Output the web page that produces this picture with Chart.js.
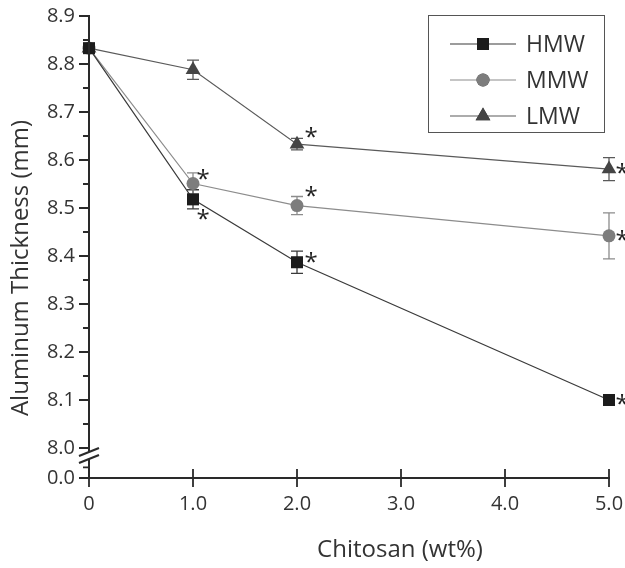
<!DOCTYPE html>
<html>
<head>
<meta charset="utf-8">
<script src="https://cdn.jsdelivr.net/npm/chart.js@4.4.1/dist/chart.umd.min.js"></script>
<style>
  html, body { margin: 0; padding: 0; background: #fff; }
  #wrap { width: 625px; height: 568px; }
</style>
</head>
<body>
<div id="wrap"><canvas id="chart"></canvas></div>
<script>
// Data
const xValues = [0, 1, 2, 5];
const xTicks = [0, 1, 2, 3, 4, 5];
const yTicks = [8.0, 8.1, 8.2, 8.3, 8.4, 8.5, 8.6, 8.7, 8.8, 8.9];
const yBreakBottom = 7.9375; // where "0.0" sits below the axis break

const seriesNames = ['HMW', 'MMW', 'LMW'];
const hmwValues = [8.833, 8.518, 8.387, 8.100];
const hmwErrors = [0, 0.020, 0.023, 0];
const hmwStars = [false, true, true, true];
const mmwValues = [8.833, 8.551, 8.505, 8.442];
const mmwErrors = [0, 0.022, 0.019, 0.048];
const mmwStars = [false, true, true, true];
const lmwValues = [8.833, 8.788, 8.633, 8.581];
const lmwErrors = [0, 0.020, 0.012, 0.024];
const lmwStars = [false, false, true, true];

const FONT = '"Open Sans", "Noto Sans", sans-serif';
const AXIS = '#2a2a2a';
const TEXT = '#333';

// marker colours / line colours per series
const styles = [
    { marker: '#1c1c1c', line: '#3a3a3a', shape: 'rect', radius: 8.5 },
    { marker: '#7d7d7d', line: '#8c8c8c', shape: 'circle', radius: 6.5 },
    { marker: '#454545', line: '#5a5a5a', shape: 'triangle', radius: 8.5 }
];
const errors = [hmwErrors, mmwErrors, lmwErrors];
const stars = [hmwStars, mmwStars, lmwStars];
// where the asterisk sits relative to the point, per x index
const starOffsets = [
    [null, [10, 16], [14, -4], [13, 0]],
    [null, [10, -8], [14, -13], [13, 0]],
    [null, null, [14, -11], [13, 0]]
];

function toPoints(vals) {
    return xValues.map((x, i) => ({ x: x, y: vals[i] }));
}

const datasets = [hmwValues, mmwValues, lmwValues].map((vals, i) => ({
    label: seriesNames[i],
    data: toPoints(vals),
    borderColor: styles[i].line,
    borderWidth: 1.2,
    backgroundColor: styles[i].marker,
    pointStyle: styles[i].shape,
    pointRadius: styles[i].radius,
    pointBackgroundColor: styles[i].marker,
    pointBorderColor: styles[i].marker,
    pointBorderWidth: 0,
    tension: 0,
    clip: false
}));

// Error bars under the markers
const errorBars = {
    id: 'errorBars',
    beforeDatasetsDraw(chart) {
        const { ctx, scales: { x, y } } = chart;
        ctx.save();
        errors.forEach((errs, d) => {
            ctx.strokeStyle = styles[d].line;
            ctx.lineWidth = 1.3;
            chart.data.datasets[d].data.forEach((p, i) => {
                if (!errs[i]) return;
                const px = x.getPixelForValue(p.x);
                const top = y.getPixelForValue(p.y + errs[i]);
                const bot = y.getPixelForValue(p.y - errs[i]);
                ctx.beginPath();
                ctx.moveTo(px, top); ctx.lineTo(px, bot);
                ctx.moveTo(px - 6, top); ctx.lineTo(px + 6, top);
                ctx.moveTo(px - 6, bot); ctx.lineTo(px + 6, bot);
                ctx.stroke();
            });
        });
        ctx.restore();
    }
};

// Axes, break marks, ticks, titles, legend and asterisks
const decorations = {
    id: 'decorations',
    afterDraw(chart) {
        const { ctx, scales: { x, y } } = chart;
        const x0 = x.getPixelForValue(0);
        const yBase = y.getPixelForValue(yBreakBottom);
        const yTop = y.getPixelForValue(8.9);
        const y8 = y.getPixelForValue(8.0);
        ctx.save();
        ctx.strokeStyle = AXIS;
        ctx.lineWidth = 2;

        // y axis with a gap for the break
        ctx.beginPath();
        ctx.moveTo(x0, yTop - 1); ctx.lineTo(x0, y8 + 4);
        ctx.moveTo(x0, y8 + 11); ctx.lineTo(x0, yBase);
        ctx.stroke();
        // break slashes
        ctx.lineWidth = 2.2;
        ctx.beginPath();
        ctx.moveTo(x0 - 10, y8 + 8); ctx.lineTo(x0 + 10, y8 - 0);
        ctx.moveTo(x0 - 10, y8 + 15); ctx.lineTo(x0 + 10, y8 + 7);
        ctx.stroke();

        // x axis
        ctx.lineWidth = 2;
        ctx.beginPath();
        ctx.moveTo(x0 - 1, yBase); ctx.lineTo(x.getPixelForValue(5) + 1, yBase);
        ctx.stroke();

        // y ticks: major outward, minor half way
        ctx.lineWidth = 1.8;
        ctx.beginPath();
        yTicks.forEach(v => {
            const py = y.getPixelForValue(v);
            ctx.moveTo(x0 - 10, py); ctx.lineTo(x0, py);
            if (v < 8.9) {
                const pm = y.getPixelForValue(v + 0.05);
                ctx.moveTo(x0 - 6, pm); ctx.lineTo(x0, pm);
            }
        });
        ctx.moveTo(x0 - 10, yBase); ctx.lineTo(x0, yBase);
        const pMinor = y.getPixelForValue(yBreakBottom + 0.022);
        ctx.moveTo(x0 - 6, pMinor); ctx.lineTo(x0, pMinor);
        // x ticks cross the axis
        xTicks.forEach(v => {
            if (v === 0) return;
            const px = x.getPixelForValue(v);
            ctx.moveTo(px, yBase - 9); ctx.lineTo(px, yBase + 9);
        });
        ctx.moveTo(x0, yBase); ctx.lineTo(x0, yBase + 9);
        ctx.stroke();

        // axis titles
        ctx.fillStyle = TEXT;
        ctx.font = '24px ' + FONT;
        ctx.textAlign = 'center';
        ctx.textBaseline = 'middle';
        ctx.fillText('Chitosan (wt%)', 400, 550);
        ctx.save();
        ctx.translate(21, 268);
        ctx.rotate(-Math.PI / 2);
        ctx.fillText('Aluminum Thickness (mm)', 0, 0);
        ctx.restore();

        // asterisks
        ctx.font = '24px ' + FONT;
        ctx.fillStyle = '#222';
        ctx.textAlign = 'center';
        stars.forEach((flags, d) => {
            chart.data.datasets[d].data.forEach((p, i) => {
                if (!flags[i]) return;
                const off = starOffsets[d][i];
                ctx.fillText('*', x.getPixelForValue(p.x) + off[0], y.getPixelForValue(p.y) + off[1] + 5);
            });
        });

        // legend box
        ctx.strokeStyle = '#555';
        ctx.lineWidth = 1;
        ctx.strokeRect(428.5, 15.5, 176, 117);
        ctx.font = '23px ' + FONT;
        ctx.textAlign = 'left';
        ctx.fillStyle = TEXT;
        const rows = [44, 80, 116];
        seriesNames.forEach((name, d) => {
            const ly = rows[d];
            ctx.strokeStyle = styles[d].line;
            ctx.lineWidth = 1.2;
            ctx.beginPath();
            ctx.moveTo(450, ly); ctx.lineTo(516, ly);
            ctx.stroke();
            Chart.helpers.drawPoint(ctx, {
                pointStyle: styles[d].shape,
                radius: styles[d].radius,
                borderWidth: 0
            }, 483, ly);
            ctx.fillStyle = styles[d].marker;
            ctx.fill();
            ctx.fillStyle = TEXT;
            ctx.fillText(name, 526, ly + 1);
        });
        ctx.restore();
    }
};

new Chart(document.getElementById('chart'), {
    type: 'line',
    data: { datasets: datasets },
    options: {
        responsive: true,
        maintainAspectRatio: false,
        animation: false,
        layout: { padding: { left: 0, right: 16, top: 16, bottom: 0 } },
        plugins: {
            legend: { display: false },
            tooltip: { enabled: false }
        },
        scales: {
            x: {
                type: 'linear',
                min: 0,
                max: 5,
                grid: { display: false, drawTicks: false },
                border: { display: false },
                afterBuildTicks: s => { s.ticks = xTicks.map(v => ({ value: v })); },
                afterFit: s => { s.height = 90; s.paddingLeft = 0; s.paddingRight = 0; },
                ticks: {
                    padding: 14,
                    color: TEXT,
                    font: { family: FONT, size: 20 },
                    callback: v => v === 0 ? '0' : Number(v).toFixed(1)
                }
            },
            y: {
                type: 'linear',
                min: yBreakBottom,
                max: 8.9,
                grid: { display: false, drawTicks: false },
                border: { display: false },
                afterBuildTicks: s => {
                    s.ticks = [yBreakBottom].concat(yTicks).map(v => ({ value: v }));
                },
                afterFit: s => { s.width = 89; s.paddingTop = 0; s.paddingBottom = 0; },
                ticks: {
                    padding: 14,
                    color: TEXT,
                    font: { family: FONT, size: 20 },
                    callback: v => v < 7.99 ? '0.0' : Number(v).toFixed(1)
                }
            }
        }
    },
    plugins: [errorBars, decorations]
});
</script>
</body>
</html>
